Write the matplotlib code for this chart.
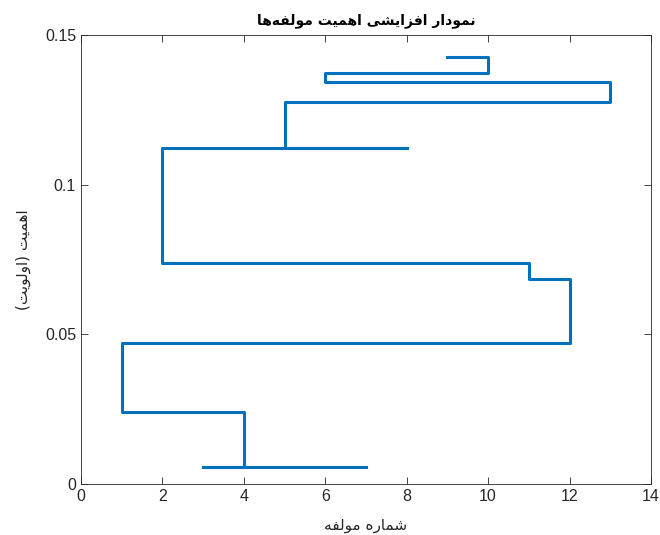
import matplotlib
matplotlib.use("Agg")
import matplotlib.pyplot as plt

# component numbers in ascending importance order, and their importance
components = [7, 3, 4, 1, 12, 11, 2, 8, 5, 13, 6, 10, 9]
importance = [0.0057, 0.0057, 0.0240, 0.0472, 0.0684, 0.0737, 0.1122,
              0.1122, 0.1277, 0.1344, 0.1375, 0.1427, 0.1427]

title_txt = "نمودار افزایشی اهمیت مولفه\u200cها"
xlabel_txt = "شماره مولفه"
ylabel_txt = "اهمیت (اولویت)"

# matplotlib does no arabic shaping, so pick presentation forms by hand
# (isolated, final, initial, medial)
FORMS = {
    'ا': ('\uFE8D', '\uFE8E', None, None),
    'د': ('\uFEA9', '\uFEAA', None, None),
    'ر': ('\uFEAD', '\uFEAE', None, None),
    'ز': ('\uFEAF', '\uFEB0', None, None),
    'و': ('\uFEED', '\uFEEE', None, None),
    'ت': ('\uFE95', '\uFE96', '\uFE97', '\uFE98'),
    'ش': ('\uFEB5', '\uFEB6', '\uFEB7', '\uFEB8'),
    'ف': ('\uFED1', '\uFED2', '\uFED3', '\uFED4'),
    'ل': ('\uFEDD', '\uFEDE', '\uFEDF', '\uFEE0'),
    'م': ('\uFEE1', '\uFEE2', '\uFEE3', '\uFEE4'),
    'ن': ('\uFEE5', '\uFEE6', '\uFEE7', '\uFEE8'),
    'ه': ('\uFEE9', '\uFEEA', '\uFEEB', '\uFEEC'),
    'ی': ('\uFBFC', '\uFBFD', '\uFBFE', '\uFBFF'),
}


def shape(s):
    out = []
    for i, c in enumerate(s):
        if c not in FORMS:
            out.append(c)
            continue
        prev = s[i - 1] if i > 0 else ''
        nxt = s[i + 1] if i + 1 < len(s) else ''
        jp = prev in FORMS and FORMS[prev][2] is not None
        jn = FORMS[c][2] is not None and nxt in FORMS
        iso, fin, ini, med = FORMS[c]
        if jp and jn:
            out.append(med)
        elif jp:
            out.append(fin)
        elif jn:
            out.append(ini)
        else:
            out.append(iso)
    t = ''.join(out).replace('\u200c', '')
    mirror = {'(': ')', ')': '('}
    return ''.join(mirror.get(c, c) for c in reversed(t))


plt.rcParams['font.family'] = ['Liberation Sans', 'DejaVu Sans']
dark = '#262626'

fig = plt.figure(figsize=(6.6, 5.35), dpi=100)
ax = fig.add_axes([0.1227, 0.0953, 0.8636, 0.839])

ax.step(components, importance, where='post', color='#0072BD', linewidth=2.2)

ax.set_xlim(0, 14)
ax.set_ylim(0, 0.15)
ax.set_xticks(range(0, 15, 2))
ax.set_yticks([0, 0.05, 0.1, 0.15])
ax.set_yticklabels(['0', '0.05', '0.1', '0.15'])

ax.tick_params(direction='in', length=5, width=0.6, colors=dark,
               labelsize=11.5, top=True, right=True)
for sp in ax.spines.values():
    sp.set_color(dark)
    sp.set_linewidth(0.6)

ax.set_title(shape(title_txt), family=['DejaVu Sans'], fontweight='bold',
             fontsize=10, color='black', pad=8)
ax.set_xlabel(shape(xlabel_txt), family=['DejaVu Sans'], fontsize=11,
              color=dark, labelpad=10)
ax.set_ylabel(shape(ylabel_txt), family=['DejaVu Sans'], fontsize=11,
              color=dark, labelpad=10)

fig.savefig('out.png', dpi=100)
